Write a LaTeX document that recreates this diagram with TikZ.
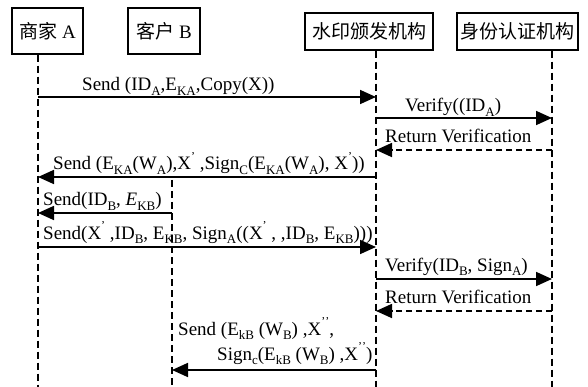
\documentclass[tikz,border=0pt]{standalone}
\usepackage{fontspec}
\setmainfont{Liberation Serif}
\newfontfamily\cjk{Noto Sans CJK SC}
\usetikzlibrary{arrows.meta}
\newcommand\sbs[1]{\raisebox{-0.22em}{\fontsize{13}{13}\selectfont #1}}
\newcommand\prm{\raisebox{0.5em}{\fontsize{12}{12}\selectfont ’}}
\begin{document}
\begin{tikzpicture}[x=1pt,y=-1pt,
  actor/.style={draw, line width=1.4pt, inner sep=0pt, font=\fontsize{19}{22}\selectfont},
  life/.style={line width=1.8pt, dash pattern=on 7pt off 4pt},
  msg/.style={line width=1.7pt, -{Triangle[length=16pt,width=14pt]}},
  ret/.style={msg, dash pattern=on 6pt off 4pt},
  lbl/.style={font=\fontsize{19}{22}\selectfont, anchor=base west, inner sep=0pt}]
\useasboundingbox (0,0) rectangle (588,387);
% actors
\node[actor, minimum width=71pt, minimum height=46pt] (boxA) at (47.5,31) {{\cjk 商家} A};
\node[actor, minimum width=72pt, minimum height=46pt] (boxB) at (164,31) {{\cjk 客户} B};
\node[actor, minimum width=128pt, minimum height=37pt] (boxC) at (369,31.5) {\cjk 水印颁发机构};
\node[actor, minimum width=121pt, minimum height=37pt] (boxD) at (517.5,31.5) {\cjk 身份认证机构};
% lifeline x positions
\coordinate (A) at (38,0);
\coordinate (B) at (172,0);
\coordinate (C) at (376,0);
\coordinate (D) at (552,0);
\coordinate (bot) at (0,387);
\coordinate (Bstart) at (0,180);
\draw[life] (boxA.south -| A) -- (A |- bot);
\draw[life] (B |- Bstart) -- (B |- bot);
\draw[life] (boxC.south -| C) -- (C |- bot);
\draw[life] (boxD.south -| D) -- (D |- bot);
% message rows
\coordinate (y1) at (0,97);
\coordinate (y2) at (0,118);
\coordinate (y3) at (0,150);
\coordinate (y4) at (0,177);
\coordinate (y5) at (0,213);
\coordinate (y6) at (0,247);
\coordinate (y7) at (0,279);
\coordinate (y8) at (0,311);
\coordinate (y9) at (0,370);
\draw[msg] (A |- y1) -- (C |- y1);
\draw[msg] (C |- y2) -- (D |- y2);
\draw[ret] (D |- y3) -- (C |- y3);
\draw[msg] (C |- y4) -- (A |- y4);
\draw[msg] (B |- y5) -- (A |- y5);
\draw[msg] (A |- y6) -- (C |- y6);
\draw[msg] (C |- y7) -- (D |- y7);
\draw[ret] (D |- y8) -- (C |- y8);
\draw[msg] (C |- y9) -- (B |- y9);
% labels
\node[lbl] (l1) at (82,91) {Send (ID\sbs{A},E\sbs{KA},Copy(X))};
\node[lbl] (l2) at (405,112) {Verify((ID\sbs{A})};
\node[lbl] (l3) at (385,143) {Return Verification};
\node[lbl] (l4) at (53,170) {Send (E\sbs{KA}(W\sbs{A}),X\prm{} ,Sign\sbs{C}(E\sbs{KA}(W\sbs{A}), X\prm{}))};
\node[lbl] (l5) at (43,206) {Send(ID\sbs{B}, \textit{E}\sbs{KB})};
\node[lbl] (l6) at (43,239) {Send(X\prm{} ,ID\sbs{B}, E\sbs{KB}, Sign\sbs{A}((X\prm{} , ,ID\sbs{B}, E\sbs{KB})))};
\node[lbl] (l7) at (385,271) {Verify(ID\sbs{B}, Sign\sbs{A})};
\node[lbl] (l8) at (385,303) {Return Verification};
\node[lbl] (l9a) at (178,335) {Send (E\sbs{kB} (W\sbs{B}) ,X\prm\prm,};
\node[lbl] (l9b) at (217,360) {Sign\sbs{c}(E\sbs{kB} (W\sbs{B}) ,X\prm\prm)};
\end{tikzpicture}
\end{document}
